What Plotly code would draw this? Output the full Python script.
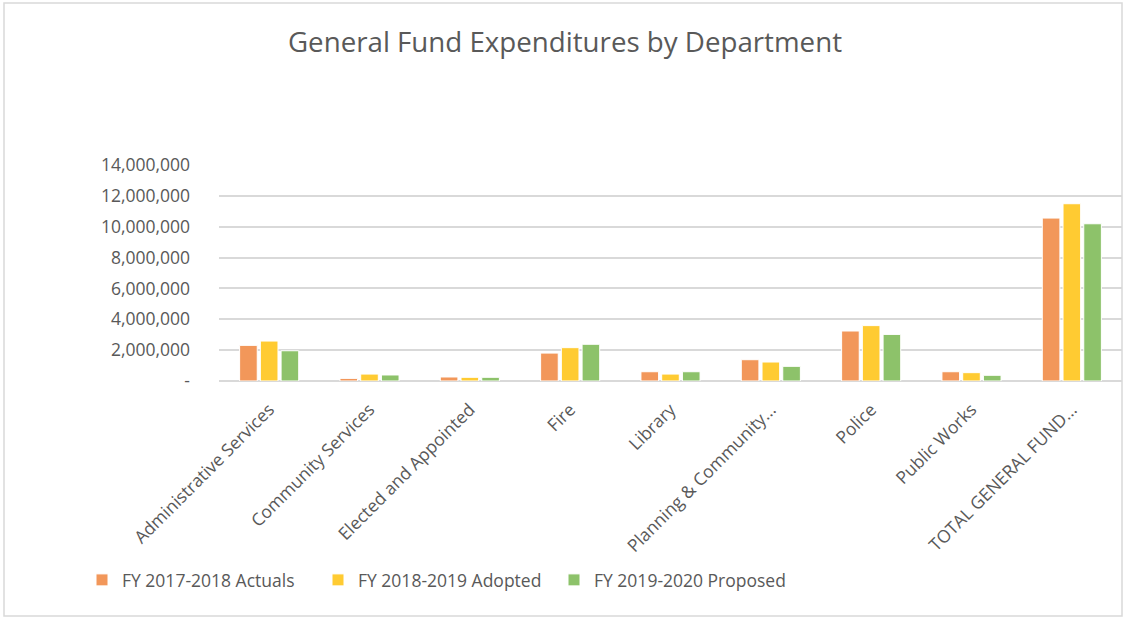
import plotly.graph_objects as go

categories = [
    "Administrative Services",
    "Community Services",
    "Elected and Appointed",
    "Fire",
    "Library",
    "Planning & Community...",
    "Police",
    "Public Works",
    "TOTAL GENERAL FUND...",
]
series_names = ["FY 2017-2018 Actuals", "FY 2018-2019 Adopted", "FY 2019-2020 Proposed"]
actuals_2017 = [2310000, 170000, 260000, 1810000, 600000, 1380000, 3240000, 600000, 10560000]
adopted_2018 = [2590000, 450000, 240000, 2160000, 450000, 1230000, 3590000, 540000, 11490000]
proposed_2019 = [1960000, 390000, 240000, 2380000, 600000, 950000, 3020000, 370000, 10190000]
y_tick_vals = [0, 2000000, 4000000, 6000000, 8000000, 10000000, 12000000, 14000000]
y_tick_text = ["-", "2,000,000", "4,000,000", "6,000,000", "8,000,000", "10,000,000", "12,000,000", "14,000,000"]

colors = ["#F2975A", "#FFCB32", "#8DC26A"]
FONT = "Open Sans"
GRAY = "#595959"

fig = go.Figure()
for name, vals, col in zip(series_names, [actuals_2017, adopted_2018, proposed_2019], colors):
    fig.add_trace(go.Bar(
        x=categories, y=vals, name=name,
        marker=dict(color=col, line=dict(color="white", width=1)),
    ))

W, H = 1126, 618
L, R, T, B = 219, 4, 165, 237
pw, ph = W - L - R, H - T - B

def px(x):
    return (x - L) / pw

def py(y):
    return (H - B - y) / ph

fig.update_layout(
    width=W, height=H,
    margin=dict(l=L, r=R, t=T, b=B),
    paper_bgcolor="white", plot_bgcolor="white",
    font=dict(family=FONT, color=GRAY, size=17),
    title=dict(text="General Fund Expenditures by Department", x=565 / W, xref="container",
               xanchor="center", y=1 - 42 / H, yref="container", yanchor="middle",
               font=dict(size=27.7, color=GRAY, family=FONT)),
    barmode="group", bargap=0.38, bargroupgap=0.15,
    showlegend=True,
    legend=dict(orientation="h", x=px(82), xanchor="left", y=py(580), yanchor="middle",
                font=dict(size=17.5, color=GRAY), entrywidth=191, entrywidthmode="pixels",
                bgcolor="rgba(0,0,0,0)"),
    shapes=[dict(type="rect", xref="paper", yref="paper",
                 x0=px(4), x1=px(1122), y0=py(616), y1=py(3),
                 line=dict(color="#D9D9D9", width=1.5), fillcolor="rgba(0,0,0,0)", layer="below")],
)
fig.update_xaxes(tickangle=-45, showgrid=False, showline=False, ticks="", ticklabelstandoff=14,
                 tickfont=dict(size=17.5, color=GRAY, family=FONT))
fig.update_yaxes(range=[0, 14000000], tickvals=y_tick_vals, ticktext=y_tick_text,
                 showgrid=True, gridcolor="#D9D9D9", gridwidth=1.5,
                 zeroline=True, zerolinecolor="#D9D9D9", zerolinewidth=1.5,
                 showline=False, ticks="", ticklabelstandoff=28,
                 tickfont=dict(size=17.5, color=GRAY, family=FONT))

fig.write_html("out.html", config={"displayModeBar": False},
               post_script="document.body.style.margin='0';")
